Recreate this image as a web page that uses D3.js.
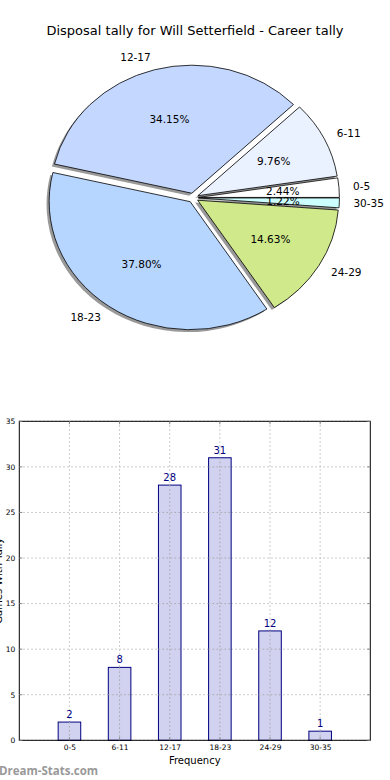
<!DOCTYPE html>
<html><head><meta charset="utf-8">
<script src="https://cdn.jsdelivr.net/npm/d3@7"></script>
<style>
html,body{margin:0;padding:0;background:#fff;}
svg{display:block;font-family:"DejaVu Sans",sans-serif;}
</style></head>
<body>
<svg id="c" width="390" height="780"></svg>
<script>
const title = "Disposal tally for Will Setterfield - Career tally";
const categories = ["0-5","6-11","12-17","18-23","24-29","30-35"];
const values = [2, 8, 28, 31, 12, 1];
const sliceColors = ["#ffffff","#eaf1ff","#c4d8ff","#b6d5ff","#cfe98b","#ccffff"];
const yTicks = [0,5,10,15,20,25,30,35];
const xLabel = "Frequency";
const yLabel = "Games With Tally";
const watermark = "Dream-Stats.com";

const svg = d3.select("#c");

// Title
svg.append("text").attr("x",195).attr("y",35).attr("text-anchor","middle")
  .attr("font-size",13).attr("fill","#000").text(title);

// ---------- Pie ----------
const cx = 193.2, cy = 197.8, rx = 141, ry = 128, explode = 0.037;
const total = d3.sum(values);
const pie = d3.pie().sort(null).value(d=>d)
  .startAngle(Math.PI/2).endAngle(Math.PI/2 - 2*Math.PI);
const arcs = pie(values);
const arcGen = d3.arc().innerRadius(0).outerRadius(1);

const pg = svg.append("g");
const slices = arcs.map((a,i)=>{
  const m = (a.startAngle + a.endAngle)/2;
  const ox = cx + explode*rx*Math.sin(m);
  const oy = cy - explode*ry*Math.cos(m);
  return {a, i, m, ox, oy};
});
// shadows
slices.forEach(s=>{
  pg.append("path")
    .attr("transform",`translate(${s.ox-2.6},${s.oy+2.4}) scale(${rx},${ry})`)
    .attr("d", arcGen(s.a)).attr("fill","#000").attr("fill-opacity",0.4)
    .attr("stroke","none");
});
slices.forEach(s=>{
  pg.append("path")
    .attr("transform",`translate(${s.ox},${s.oy}) scale(${rx},${ry})`)
    .attr("d", arcGen(s.a)).attr("fill", sliceColors[s.i])
    .attr("stroke","#000").attr("stroke-width",0.8)
    .attr("vector-effect","non-scaling-stroke")
    .attr("stroke-linejoin","miter");
});
// labels
slices.forEach(s=>{
  const dx = Math.sin(s.m), dy = -Math.cos(s.m);
  const lx = s.ox + 1.1*rx*dx, ly = s.oy + 1.1*ry*dy;
  svg.append("text").attr("x",lx).attr("y",ly).attr("dy","0.36em")
    .attr("text-anchor", dx>0 ? "start" : "end")
    .attr("font-size",10.5).attr("fill","#000").text(categories[s.i]);
  const px = s.ox + 0.6*rx*dx, py = s.oy + 0.6*ry*dy;
  svg.append("text").attr("x",px).attr("y",py).attr("dy","0.36em")
    .attr("text-anchor","middle").attr("font-size",10.5).attr("fill","#000")
    .text((values[s.i]/total*100).toFixed(2)+"%");
});

// ---------- Bar chart ----------
const L=19.3, R=370.3, T=421.3, B=740.3;
const x = d3.scaleLinear().domain([-1,6]).range([L,R]);
const y = d3.scaleLinear().domain([0,35]).range([B,T]);
const bg = svg.append("g");

// grid
yTicks.forEach(t=>{
  bg.append("line").attr("x1",L).attr("x2",R).attr("y1",y(t)).attr("y2",y(t))
    .attr("stroke","#bbb").attr("stroke-width",1).attr("stroke-dasharray","1.5,2.5");
});
categories.forEach((c,i)=>{
  bg.append("line").attr("x1",x(i)).attr("x2",x(i)).attr("y1",T).attr("y2",B)
    .attr("stroke","#bbb").attr("stroke-width",1).attr("stroke-dasharray","1.5,2.5");
});

const bw = 0.45;
bg.selectAll("rect.bar").data(values).join("rect").attr("class","bar")
  .attr("x",(d,i)=>x(i-bw/2)).attr("width",x(bw)-x(0))
  .attr("y",d=>y(d)).attr("height",d=>y(0)-y(d))
  .attr("fill","#ccccee").attr("fill-opacity",0.9).attr("stroke","#000080").attr("stroke-width",1);
// grid over bars (matplotlib grid drawn above)
categories.forEach((c,i)=>{
  bg.append("line").attr("x1",x(i)).attr("x2",x(i)).attr("y1",y(values[i])).attr("y2",B)
    .attr("stroke","#aaa").attr("stroke-width",1).attr("stroke-dasharray","1.5,2.5");
});
yTicks.forEach(t=>{
  values.forEach((v,i)=>{
    if (t>0 && t<v) bg.append("line").attr("x1",x(i-bw/2)).attr("x2",x(i+bw/2))
      .attr("y1",y(t)).attr("y2",y(t)).attr("stroke","#aaa").attr("stroke-dasharray","1.5,2.5");
  });
});
bg.selectAll("text.val").data(values).join("text").attr("class","val")
  .attr("x",(d,i)=>x(i)).attr("y",d=>y(d)-4).attr("text-anchor","middle")
  .attr("font-size",10).attr("fill","#000080").text(d=>d);

// frame
bg.append("rect").attr("x",L).attr("y",T).attr("width",R-L).attr("height",B-T)
  .attr("fill","none").attr("stroke","#000").attr("stroke-width",1);

// axes ticks via d3 axis
const yAxis = d3.axisLeft(y).tickValues(yTicks).tickSize(0).tickPadding(4);
const yg = bg.append("g").attr("transform",`translate(${L},0)`).call(yAxis);
yg.select(".domain").remove();
yg.selectAll("text").attr("font-size",7.5).attr("font-family","DejaVu Sans").attr("fill","#000");
const xAxis = d3.axisBottom(x).tickValues(d3.range(categories.length))
  .tickFormat(i=>categories[i]).tickSize(0).tickPadding(4);
const xg = bg.append("g").attr("transform",`translate(0,${B})`).call(xAxis);
xg.select(".domain").remove();
xg.selectAll("text").attr("font-size",7.5).attr("font-family","DejaVu Sans").attr("fill","#000");
// inward tick marks
yTicks.forEach(t=>{
  bg.append("line").attr("x1",L).attr("x2",L+3).attr("y1",y(t)).attr("y2",y(t)).attr("stroke","#888");
  bg.append("line").attr("x1",R-3).attr("x2",R).attr("y1",y(t)).attr("y2",y(t)).attr("stroke","#888");
});
categories.forEach((c,i)=>{
  bg.append("line").attr("x1",x(i)).attr("x2",x(i)).attr("y1",B-3).attr("y2",B).attr("stroke","#888");
  bg.append("line").attr("x1",x(i)).attr("x2",x(i)).attr("y1",T).attr("y2",T+3).attr("stroke","#888");
});

svg.append("text").attr("x",(L+R)/2).attr("y",764).attr("text-anchor","middle")
  .attr("font-size",10).attr("fill","#000").text(xLabel);
svg.append("text").attr("transform",`translate(2,${(T+B)/2}) rotate(-90)`)
  .attr("text-anchor","middle").attr("font-size",10).attr("fill","#000").text(yLabel);
svg.append("text").attr("x",-1).attr("y",775).attr("font-size",11.5)
  .attr("font-weight","bold").attr("fill","#999").attr("font-family","'Open Sans','DejaVu Sans',sans-serif")
  .text(watermark);
</script>
</body></html>
